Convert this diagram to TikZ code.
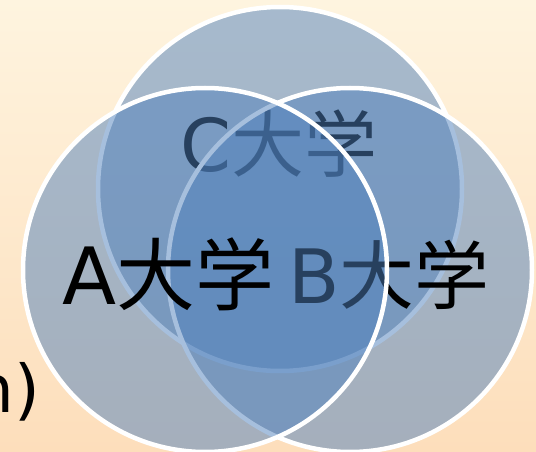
\documentclass[tikz,border=0pt]{standalone}
\usepackage{fontspec}
\newfontfamily\cjk{Noto Sans CJK JP}
\newfontfamily\lat{DejaVu Sans}
\definecolor{bgtop}{RGB}{254,244,223}
\definecolor{bgbot}{RGB}{253,222,187}
\definecolor{vblue}{RGB}{79,129,189}
\tikzset{
  venn/.style={circle, draw=white, line width=4.5pt, fill=vblue, fill opacity=0.5,
    minimum size=364pt, inner sep=0pt},
  lbl/.style={inner sep=0pt, anchor=base west, text=black}
}
\begin{document}
\begin{tikzpicture}[x=1pt,y=-1pt]
\useasboundingbox (0,0) rectangle (536,452);
\clip (0,0) rectangle (536,452);
\shade[top color=bgtop, bottom color=bgbot] (0,0) rectangle (536,452);
\node[lbl, anchor=base east, font=\lat\fontsize{66}{70}\selectfont] (frag) at (40,412) {n)};
\node[venn] (C) at (280,189) {};
\node[lbl, font=\fontsize{73}{76}\selectfont] (Ct) at (180,171) {\lat C\cjk 大学};
\node[venn] (B) at (350,270) {};
\node[lbl, font=\fontsize{75}{78}\selectfont] (Bt) at (288,303) {\lat B\cjk 大学};
\node[venn] (A) at (205,270) {};
\node[lbl, font=\fontsize{79}{82}\selectfont] (At) at (62,304) {\lat A\cjk 大学};
\end{tikzpicture}
\end{document}
